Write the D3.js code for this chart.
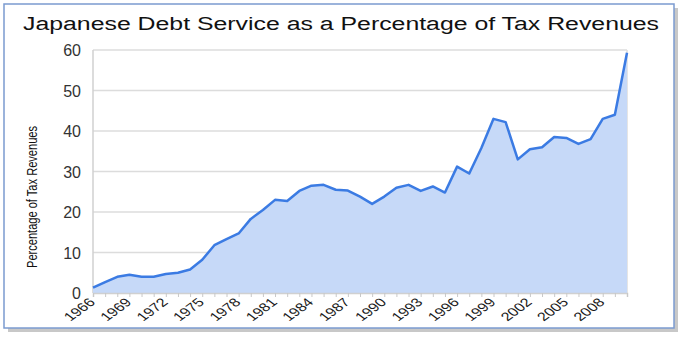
<!DOCTYPE html>
<html><head><meta charset="utf-8">
<script src="https://cdn.jsdelivr.net/npm/d3@7"></script>
<style>body{margin:0;background:#fff}svg{display:block}</style>
</head><body>
<svg id="c" width="686" height="342"></svg>
<script>
const years = d3.range(1966, 2011);
const values = [1.3,2.7,4.0,4.5,4.0,4.0,4.7,5.0,5.8,8.2,
  11.8,13.3,14.7,18.3,20.5,23.0,22.7,25.2,26.5,26.7,
  25.5,25.3,23.8,22.0,23.8,26.0,26.7,25.2,26.3,24.8,
  31.2,29.5,35.8,43.0,42.2,33.0,35.5,36.0,38.5,38.3,
  36.8,38.0,43.0,44.0,59.3];
const yTicks = [0,10,20,30,40,50,60];
const xLabelYears = d3.range(1966, 2009, 3);
const title = "Japanese Debt Service as a Percentage of Tax Revenues";
const yTitle = "Percentage of Tax Revenues";

const svg = d3.select("#c");
const data = years.map((y,i)=>({year:y, value:values[i]}));

// frame with shadow
svg.append("rect").attr("x",8).attr("y",8).attr("width",670).attr("height",324).attr("fill","#c8c8c8");
svg.append("rect").attr("x",4).attr("y",4).attr("width",670).attr("height",324)
  .attr("fill","#fff").attr("stroke","#7b9bd0").attr("stroke-width",1.5);

const L=93, R=627, T=50, B=293;
const x = d3.scaleLinear().domain([1966,2010]).range([L,R]);
const y = d3.scaleLinear().domain([0,60]).range([B,T]);

// gridlines
svg.append("g").selectAll("line").data(yTicks).join("line")
  .attr("x1",L).attr("x2",R).attr("y1",d=>y(d)).attr("y2",d=>y(d))
  .attr("stroke","#dcdcdc").attr("stroke-width",1.5);
svg.append("line").attr("x1",L).attr("x2",L).attr("y1",T).attr("y2",B).attr("stroke","#d0d0d0").attr("stroke-width",1.5);
svg.append("line").attr("x1",R).attr("x2",R).attr("y1",T).attr("y2",B).attr("stroke","#dcdcdc").attr("stroke-width",1.5);

// area + line
svg.append("path").datum(data)
  .attr("d", d3.area().x(d=>x(d.year)).y0(y(0)).y1(d=>y(d.value)))
  .attr("fill","#c6d9f8");
svg.append("path").datum(data)
  .attr("d", d3.line().x(d=>x(d.year)).y(d=>y(d.value)))
  .attr("fill","none").attr("stroke","#3b7be3").attr("stroke-width",2.5).attr("stroke-linejoin","round");

// x axis
const xAxis = d3.axisBottom(x).tickValues(years).tickSize(4).tickFormat("");
const gx = svg.append("g").attr("transform",`translate(0,${B})`).call(xAxis);
gx.select(".domain").attr("stroke","#d0d0d0").attr("stroke-width",1.5);
gx.selectAll(".tick line").attr("stroke","#c8c8c8");

svg.append("g").selectAll("text").data(xLabelYears).join("text")
  .attr("transform",d=>`translate(${x(d)+3},${B+10}) scale(1.35,1) rotate(-45)`)
  .attr("text-anchor","end").attr("font-family","Liberation Sans, Arial, sans-serif")
  .attr("font-size",12).attr("fill","#1a1a1a").text(d=>d);

// y axis labels
const yAxis = d3.axisLeft(y).tickValues(yTicks).tickSize(0).tickPadding(12);
const gy = svg.append("g").attr("transform",`translate(${L},0)`).call(yAxis);
gy.select(".domain").remove();
gy.selectAll("text").attr("font-family","Liberation Sans, Arial, sans-serif")
  .attr("font-size",16).attr("fill","#333").attr("dy","0.36em");

// titles
svg.append("text").attr("x",341).attr("y",30).attr("text-anchor","middle")
  .attr("font-family","Liberation Sans, Arial, sans-serif").attr("font-size",18)
  .attr("fill","#111").attr("textLength",636).attr("lengthAdjust","spacingAndGlyphs").text(title);
svg.append("text").attr("transform","translate(37,197) rotate(-90)").attr("text-anchor","middle")
  .attr("font-family","Liberation Sans, Arial, sans-serif").attr("font-size",15)
  .attr("fill","#111").attr("textLength",142).attr("lengthAdjust","spacingAndGlyphs").text(yTitle);
</script>
</body></html>
